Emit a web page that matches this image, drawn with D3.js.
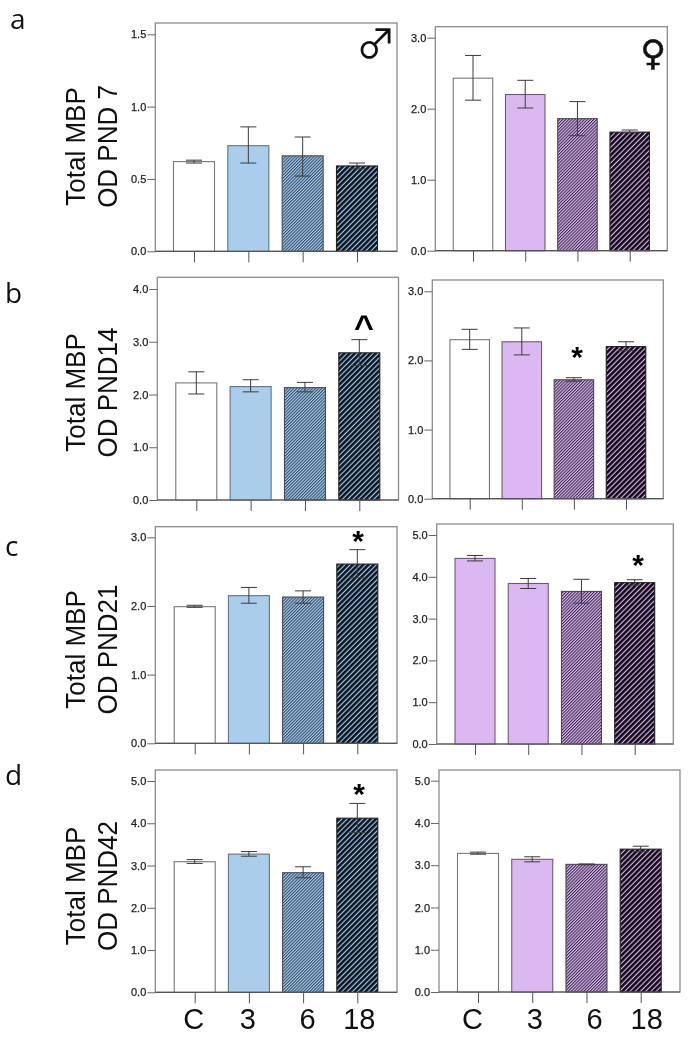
<!DOCTYPE html>
<html>
<head>
<meta charset="utf-8">
<script src="https://cdn.jsdelivr.net/npm/d3@7"></script>
<style>
html,body{margin:0;padding:0;background:#fff}
svg{display:block;filter:blur(0.35px)}
text{font-family:"Liberation Sans",Arial,sans-serif}
</style>
</head>
<body>
<svg id="chart" width="698" height="1050"></svg>
<script>
// ---------- data ----------
const doses = ["C","3","6","18"];
const rowLetters = ["a","b","c","d"];
const rowLabels = ["OD PND 7","OD PND14","OD PND21","OD PND42"];
const commonLabel = "Total MBP";

const maleA = [0.62,0.73,0.66,0.59], maleALow = [0.61,0.61,0.52,0.57], maleAHigh = [0.63,0.86,0.79,0.61];
const femaleA = [2.43,2.20,1.86,1.67], femaleALow = [2.12,2.01,1.62,1.66], femaleAHigh = [2.75,2.40,2.10,1.70];
const maleB = [2.22,2.15,2.13,2.79], maleBLow = [2.01,2.05,2.05,2.55], maleBHigh = [2.43,2.28,2.23,3.04];
const femaleB = [2.30,2.27,1.72,2.20], femaleBLow = [2.16,2.08,1.70,2.14], femaleBHigh = [2.45,2.47,1.75,2.27];
const maleC = [1.99,2.15,2.13,2.61], maleCLow = [1.98,2.04,2.04,2.41], maleCHigh = [2.01,2.27,2.22,2.82];
const femaleC = [4.44,3.84,3.65,3.86], femaleCLow = [4.38,3.72,3.37,3.80], femaleCHigh = [4.51,3.96,3.94,3.93];
const maleD = [3.09,3.27,2.83,4.12], maleDLow = [3.05,3.22,2.71,3.78], maleDHigh = [3.14,3.33,2.97,4.47];
const femaleD = [3.28,3.14,3.02,3.38], femaleDLow = [3.26,3.08,3.01,3.32], femaleDHigh = [3.31,3.20,3.03,3.45];

const tickValuesA = [0,0.5,1.0,1.5], tickValuesThree = [0,1,2,3], tickValuesFour = [0,1,2,3,4], tickValuesFive = [0,1,2,3,4,5];

// ---------- layout (pixel geometry of each panel, separate from values) ----------
const panels = [
 {m:maleA,lo:maleALow,hi:maleAHigh,ticks:tickValuesA,max:1.5,sex:"m",L:155.3,R:397,T:23,B:251.3,Y:34.3,x0:194,x1:357,w:41,firstColor:false},
 {m:femaleA,lo:femaleALow,hi:femaleAHigh,ticks:tickValuesThree,max:3,sex:"f",L:435.3,R:667.3,T:26.7,B:250.7,Y:37.7,x0:473,x1:629.7,w:39.5,firstColor:false},
 {m:maleB,lo:maleBLow,hi:maleBHigh,ticks:tickValuesFour,max:4,sex:"m",L:157.3,R:398.5,T:277.3,B:500,Y:289,x0:196.3,x1:359.3,w:41,firstColor:false,mark:{t:"^",i:3,x:364,y:338,s:34}},
 {m:femaleB,lo:femaleBLow,hi:femaleBHigh,ticks:tickValuesThree,max:3,sex:"f",L:432.3,R:663.3,T:280,B:498.7,Y:291.3,x0:469.7,x1:626,w:39.5,firstColor:false,mark:{t:"*",i:2,x:577,y:366.5,s:30}},
 {m:maleC,lo:maleCLow,hi:maleCHigh,ticks:tickValuesThree,max:3,sex:"m",L:155.3,R:397,T:526.7,B:743.3,Y:537.3,x0:194.7,x1:357.3,w:41,firstColor:false,mark:{t:"*",i:3,x:358,y:550.5,s:30}},
 {m:femaleC,lo:femaleCLow,hi:femaleCHigh,ticks:tickValuesFive,max:5,sex:"f",L:436.7,R:673.3,T:524,B:744,Y:535,x0:475,x1:634.7,w:40,firstColor:true,mark:{t:"*",i:3,x:638,y:574.5,s:30}},
 {m:maleD,lo:maleDLow,hi:maleDHigh,ticks:tickValuesFive,max:5,sex:"m",L:155.3,R:397,T:770,B:992.3,Y:781,x0:194.7,x1:357.3,w:41,firstColor:false,mark:{t:"*",i:3,x:359,y:803.5,s:30},labels:[-1.5,-1.5,4,1.5]},
 {m:femaleD,lo:femaleDLow,hi:femaleDHigh,ticks:tickValuesFive,max:5,sex:"f",L:439,R:680,T:770,B:992,Y:780.7,x0:478,x1:640.7,w:41,firstColor:false,labels:[-6,2,7.5,5.5]}
];
const rowText = [{y:146.5,ly:29,lx:10},{y:392.5,ly:303,lx:5},{y:649.5,ly:556,lx:5},{y:886,ly:785,lx:5}];

const palette = {
 m:{base:"#aacdec",dark:"#0c1622",edge:"#5f7486"},
 f:{base:"#dcb8f0",dark:"#120a18",edge:"#6d5a78"}
};

const svg = d3.select("#chart");
const defs = svg.append("defs");
function hatch(id, base, dark, period, thick){
  const p = defs.append("pattern").attr("id",id).attr("patternUnits","userSpaceOnUse")
    .attr("width",period).attr("height",period).attr("patternTransform","rotate(45)");
  p.append("rect").attr("width",period).attr("height",period).attr("fill",base);
  p.append("rect").attr("width",thick).attr("height",period).attr("fill",dark);
}
["m","f"].forEach(s=>{
  hatch(s+"Fine", palette[s].base, s==="m"?"#2f4a68":"#3a2a4a", 2.2, 1.05);
  hatch(s+"Coarse", palette[s].base, palette[s].dark, 3.7, 2.6);
});

function fillFor(p,i){
  if(i===0) return p.firstColor ? palette[p.sex].base : "#fff";
  if(i===1) return palette[p.sex].base;
  return `url(#${p.sex}${i===2?"Fine":"Coarse"})`;
}
function strokeFor(p,i){
  if(i===0) return p.firstColor ? palette[p.sex].edge : "#777";
  if(i===1) return palette[p.sex].edge;
  return i===3 ? "#222" : "#4a4a55";
}

panels.forEach((p,idx)=>{
  const g = svg.append("g");
  const y = d3.scaleLinear().domain([0,p.max]).range([p.B,p.Y]);
  const x = d3.scalePoint().domain(doses).range([p.x0,p.x1]);

  // frame
  g.append("rect").attr("x",p.L).attr("y",p.T).attr("width",p.R-p.L).attr("height",p.B-p.T)
    .attr("fill","#fff").attr("stroke","#8c8c8c").attr("stroke-width",1.3);

  // bars
  g.selectAll("rect.bar").data(p.m).join("rect").attr("class","bar")
    .attr("x",(d,i)=>x(doses[i])-p.w/2).attr("width",p.w)
    .attr("y",d=>y(d)).attr("height",d=>y(0)-y(d))
    .attr("fill",(d,i)=>fillFor(p,i)).attr("stroke",(d,i)=>strokeFor(p,i)).attr("stroke-width",1.1);

  // error bars
  const cap = 8;
  const err = g.selectAll("g.err").data(p.m).join("g").attr("class","err")
    .attr("stroke","#3c3c3c").attr("stroke-width",1);
  err.append("line").attr("x1",(d,i)=>x(doses[i])).attr("x2",(d,i)=>x(doses[i]))
    .attr("y1",(d,i)=>y(p.lo[i])).attr("y2",(d,i)=>y(p.hi[i]));
  err.append("line").attr("x1",(d,i)=>x(doses[i])-cap).attr("x2",(d,i)=>x(doses[i])+cap)
    .attr("y1",(d,i)=>y(p.lo[i])).attr("y2",(d,i)=>y(p.lo[i]));
  err.append("line").attr("x1",(d,i)=>x(doses[i])-cap).attr("x2",(d,i)=>x(doses[i])+cap)
    .attr("y1",(d,i)=>y(p.hi[i])).attr("y2",(d,i)=>y(p.hi[i]));

  // y axis
  const ya = g.append("g").attr("transform",`translate(${p.L},0)`)
    .call(d3.axisLeft(y).tickValues(p.ticks).tickFormat(d3.format(".1f")).tickSize(8).tickPadding(1));
  ya.select(".domain").remove();
  ya.selectAll("line").attr("stroke","#666").attr("stroke-width",1);
  ya.selectAll("text").attr("font-size",11).attr("fill","#222").attr("stroke","#222").attr("stroke-width",0.25)
    .style("font-family",'"Liberation Sans",Arial,sans-serif');

  // x axis
  const xa = g.append("g").attr("transform",`translate(0,${p.B})`)
    .call(d3.axisBottom(x).tickSize(11).tickSizeOuter(0).tickFormat(p.labels ? (d=>d) : ""));
  xa.select(".domain").attr("d",`M${p.L},0H${p.R}`).attr("stroke","#555").attr("stroke-width",1.2);
  xa.selectAll("line").attr("stroke","#555").attr("stroke-width",1);
  if(p.labels){
    xa.selectAll("text").attr("font-size",29).attr("fill","#111").attr("y",37).attr("dy",0)
      .attr("dx",(d,i)=>p.labels[i])
      .style("font-family",'"Liberation Sans",Arial,sans-serif');
  }

  // significance marks
  if(p.mark){
    g.append("text").text(p.mark.t).attr("x",p.mark.x).attr("y",p.mark.y)
      .attr("text-anchor","middle").attr("font-size",p.mark.s).attr("fill","#000")
      .attr("font-weight","bold");
  }
});

// sex symbols
svg.append("text").text("\u2642").attr("x",376).attr("y",58).attr("text-anchor","middle")
  .attr("font-size",40).attr("fill","#111").style("font-family",'"Noto Sans CJK SC","DejaVu Sans"');
svg.append("text").text("\u2640").attr("x",653).attr("y",65).attr("text-anchor","middle")
  .attr("font-size",35).attr("fill","#111").attr("stroke","#111").attr("stroke-width",0.5).style("font-family","DejaVu Sans");

// row titles and letters
rowText.forEach((r,i)=>{
  svg.append("text").text(commonLabel)
    .attr("transform",`translate(85,${r.y}) rotate(-90) scale(1,1.08)`).attr("text-anchor","middle")
    .attr("font-size",26).attr("fill","#111");
  svg.append("text").text(rowLabels[i])
    .attr("transform",`translate(117,${r.y}) rotate(-90) scale(1,1.08)`).attr("text-anchor","middle")
    .attr("font-size",26).attr("fill","#111");
  svg.append("text").text(rowLetters[i]).attr("x",r.lx).attr("y",r.ly)
    .attr("font-size",28).attr("fill","#111").style("font-family",'"Open Sans",sans-serif');
});
</script>
</body>
</html>
